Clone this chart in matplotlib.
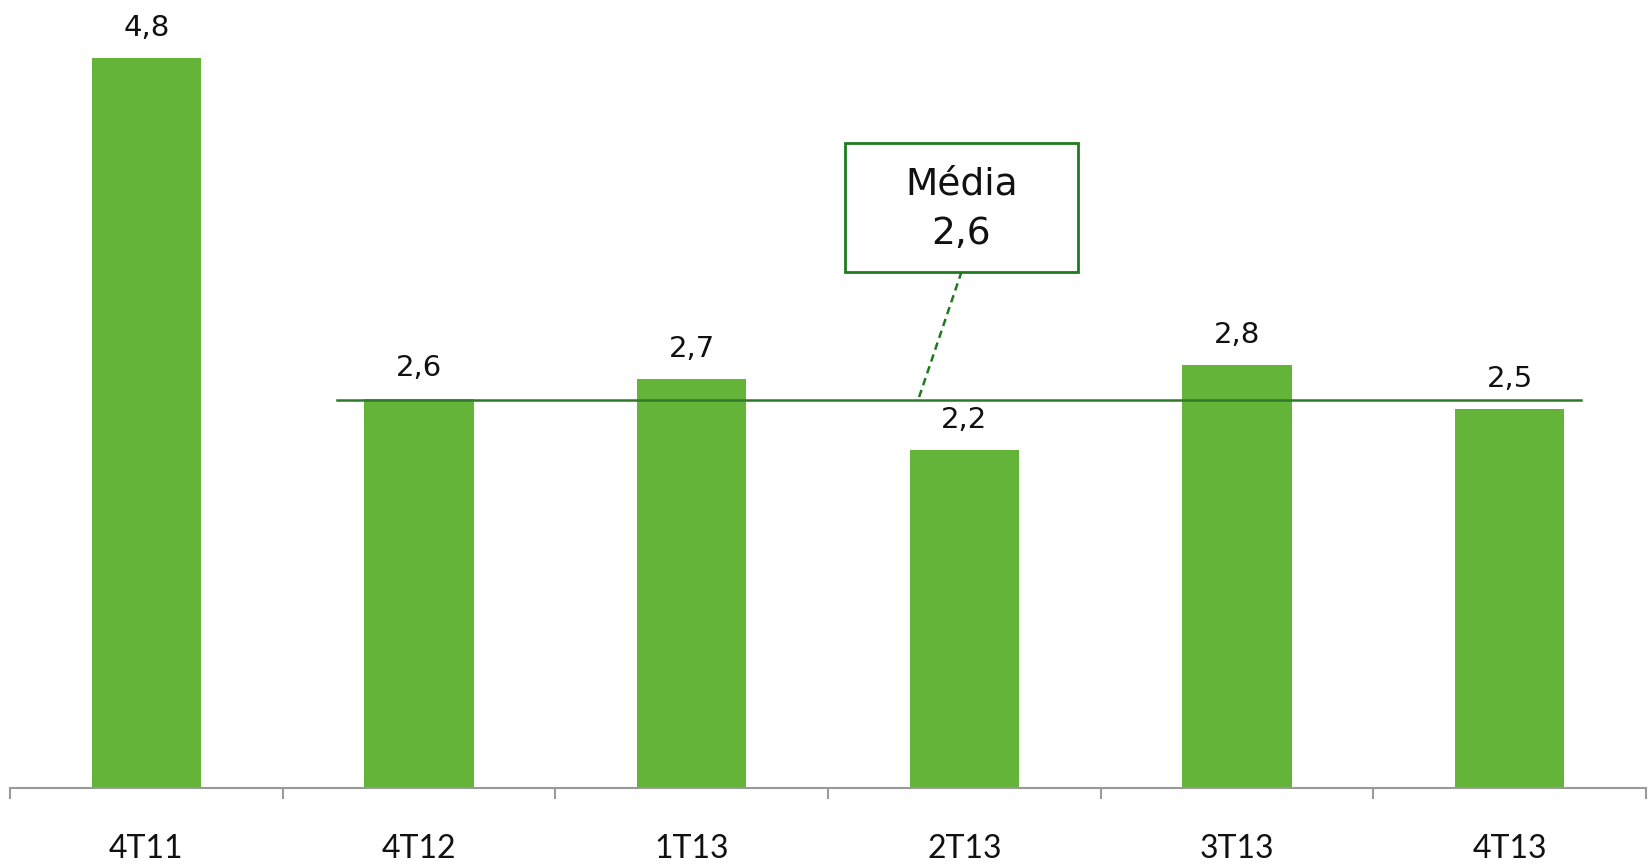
import numpy as np
import matplotlib
matplotlib.use("Agg")
import matplotlib.pyplot as plt
from matplotlib.patches import Rectangle

# data
categories = ['4T11', '4T12', '1T13', '2T13', '3T13', '4T13']
values = [4.8, 2.56, 2.69, 2.22, 2.78, 2.49]
labels = ['4,8', '2,6', '2,7', '2,2', '2,8', '2,5']
mean_label = 'Média\n2,6'

bar_color = '#63B438'
line_color = '#2F7A2A'
box_color = '#1F7A1F'

W, H = 1648, 864
fig = plt.figure(figsize=(W / 100, H / 100), dpi=100)
ax = fig.add_axes([10 / W, 76 / H, 1636 / W, 788 / H])

x = np.arange(len(categories))
ax.bar(x, values, width=0.4, color=bar_color, zorder=2)

for xi, v, lab in zip(x, values, labels):
    ax.annotate(lab, (xi, v), xytext=(0, 16), textcoords='offset points',
                ha='center', va='baseline', fontsize=21, family='DejaVu Sans',
                color='#111111')

# mean line over last five quarters
mean_val = np.mean(values[1:])
ax.plot([x[1] - 0.3, x[-1] + 0.26], [mean_val, mean_val], color=line_color,
        lw=1.8, zorder=3)

# callout box
bx0, bx1, by0, by1 = 2.562, 3.416, 3.395, 4.243
ax.add_patch(Rectangle((bx0, by0), bx1 - bx0, by1 - by0, facecolor='white',
                       edgecolor=box_color, lw=2, zorder=4))
top, bottom = mean_label.split('\n')
ax.text((bx0 + bx1) / 2, 3.97, top, ha='center', va='center', fontsize=27,
        family='DejaVu Sans', color='#111111', zorder=5)
ax.text((bx0 + bx1) / 2, 3.645, bottom, ha='center', va='center', fontsize=27,
        family='DejaVu Sans', color='#111111', zorder=5)
ax.plot([2.99, 2.83], [by0, mean_val], color=box_color, lw=1.8,
        ls=(0, (3, 2)), zorder=3)

ax.set_xlim(-0.5, len(categories) - 0.5)
ax.set_ylim(0, 5.18)

for s in ['top', 'right', 'left']:
    ax.spines[s].set_visible(False)
ax.spines['bottom'].set_color('#999999')
ax.spines['bottom'].set_linewidth(1.5)
ax.set_yticks([])

ax.set_xticks(x)
ax.set_xticklabels(categories, fontsize=23, family='Lato', color='#111111')
ax.tick_params(axis='x', which='major', length=0, pad=33)
ax.set_xticks(np.arange(len(categories) + 1) - 0.5, minor=True)
ax.tick_params(axis='x', which='minor', length=8, width=1.5, color='#999999')

fig.savefig('out.png', dpi=100, facecolor='white')
